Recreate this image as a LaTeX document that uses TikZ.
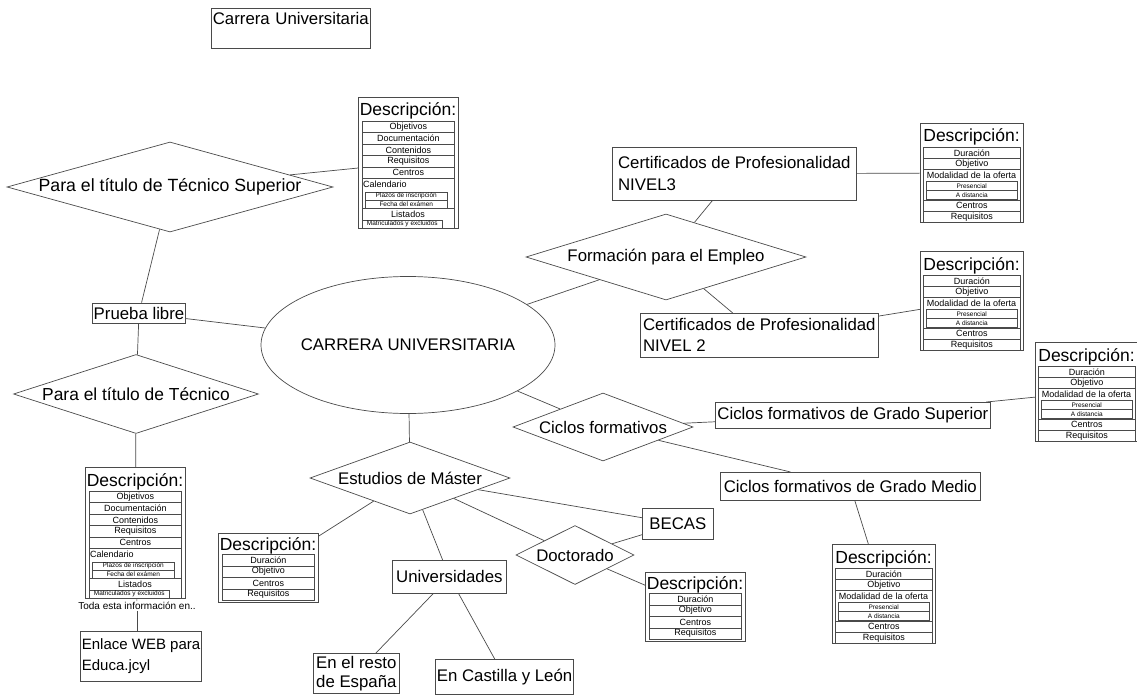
\documentclass[tikz,border=0pt]{standalone}
\usepackage{fontspec}
\setmainfont{Liberation Sans}
\usetikzlibrary{shapes.geometric,positioning}

\definecolor{gris}{HTML}{4A4A4A}

\newcommand{\letraG}{\fontsize{16.8}{19}\selectfont}
\newcommand{\letraT}{\fontsize{17.5}{19}\selectfont}
\newcommand{\letraM}{\fontsize{9}{10}\selectfont}
\newcommand{\letraP}{\fontsize{6.5}{7}\selectfont}

% cuadro de descripcion: prueba libre
\newcommand{\cuadroA}[3]{%
  \node[dcaja, minimum width=100, minimum height=131] (#1) at (#2,#3) {};
  \begin{scope}[shift={(#2,#3)}]
    \node[dtitulo] at (50,19) {Descripción:};
    \foreach \t [count=\i from 0] in {Objetivos,Documentación,Contenidos,Requisitos,Centros}
      \node[dfila, minimum width=92, minimum height=11.4] at (4,24+11.4*\i) {\t};
    \draw[gris] (4,81) rectangle (96,111);
    \node[font=\letraM, anchor=west, inner sep=1pt] at (4,87) {Calendario};
    \node[dsub, minimum width=82, minimum height=8] at (7,95) {Plazos de inscripción};
    \node[dsub, minimum width=82, minimum height=8] at (7,103) {Fecha del exámen};
    \draw[gris] (4,111) rectangle (96,131);
    \node[font=\letraM] at (50,117) {Listados};
    \node[dsub, minimum width=80, minimum height=8] at (4,123) {Matriculados y excluidos};
  \end{scope}}

% cuadro de descripcion: certificados y ciclos
\newcommand{\cuadroB}[3]{%
  \node[dcaja, minimum width=103, minimum height=99] (#1) at (#2,#3) {};
  \begin{scope}[shift={(#2,#3)}]
    \node[dtitulo] at (51.5,19) {Descripción:};
    \node[dfila, minimum width=97, minimum height=11] at (3,24) {Duración};
    \node[dfila, minimum width=97, minimum height=11] at (3,35) {Objetivo};
    \draw[gris] (3,46) rectangle (100,77);
    \node[font=\letraM, inner sep=0pt] at (51.5,52) {Modalidad de la oferta};
    \node[dsub, minimum width=91, minimum height=9] at (6,58) {Presencial};
    \node[dsub, minimum width=91, minimum height=9] at (6,67) {A distancia};
    \node[dfila, minimum width=97, minimum height=11] at (3,77) {Centros};
    \node[dfila, minimum width=97, minimum height=11] at (3,88) {Requisitos};
  \end{scope}}

% cuadro de descripcion corto
\newcommand{\cuadroC}[3]{%
  \node[dcaja, minimum width=100, minimum height=69] (#1) at (#2,#3) {};
  \begin{scope}[shift={(#2,#3)}]
    \node[dtitulo] at (50,17) {Descripción:};
    \foreach \t [count=\i from 0] in {Duración,Objetivo,Centros,Requisitos}
      \node[dfila, minimum width=92, minimum height=11.5] at (4,21+11.5*\i) {\t};
  \end{scope}}

\begin{document}
\begin{tikzpicture}[x=1pt,y=-1pt,font=\letraG,
    caja/.style={draw=gris,line width=0.7pt,inner xsep=1.5pt,inner ysep=1.5pt},
    rombo/.style={draw=gris,line width=0.7pt,shape=diamond,inner sep=0pt},
    elipse/.style={draw=gris,line width=0.7pt,shape=ellipse,inner sep=0pt},
    dcaja/.style={draw=gris,line width=0.9pt,anchor=north west,inner sep=0pt},
    dtitulo/.style={font=\letraT,anchor=base,inner sep=0pt},
    dfila/.style={draw=gris,line width=0.6pt,anchor=north west,inner sep=0pt,font=\letraM},
    dsub/.style={draw=gris,line width=0.5pt,anchor=north west,inner sep=0pt,font=\letraP}]

  \useasboundingbox (0,0) rectangle (1137,695);

  \node[caja, anchor=north west, text width=156, text height=15, text depth=22, align=left] (titulo) at (211,8) {Carrera Universitaria};

  % prueba libre
  \node[rombo, aspect=3.62, minimum width=326, minimum height=90, font=\fontsize{17.7}{19}\selectfont] (tecsup) at (170,187) {Para el título de Técnico Superior};
  \cuadroA{dts}{358}{97}
  \node[caja, minimum width=93, minimum height=20, inner xsep=1pt] (prueba) at (139,313) {Prueba libre};
  \node[rombo, aspect=3.1, minimum width=245, minimum height=79, font=\fontsize{17.4}{19}\selectfont] (tec) at (136,394) {Para el título de Técnico};
  \cuadroA{dtec}{85}{467}
  \node[font=\fontsize{10}{12}\selectfont, inner sep=1pt] (toda) at (137,606) {Toda esta información en..};
  \node[caja, anchor=north west, minimum width=120, minimum height=50, align=left, font=\fontsize{15}{21}\selectfont] (enlace) at (80,631) {Enlace WEB para\\Educa.jcyl};

  \node[elipse, minimum width=294, minimum height=137, label=center:{CARRERA UNIVERSITARIA}] (centro) at (408,345) {};

  % formacion para el empleo
  \node[rombo, aspect=3.26, minimum width=280, minimum height=86] (empleo) at (666,257) {Formación para el Empleo};
  \node[caja, anchor=north west, minimum width=244, minimum height=53, align=left, font=\fontsize{16.8}{22}\selectfont] (niv3) at (612,147) {Certificados de Profesionalidad\\NIVEL3};
  \cuadroB{dn3}{920}{123}
  \node[caja, anchor=north west, minimum width=238, minimum height=44, align=left, font=\fontsize{16.8}{21}\selectfont] (niv2) at (640,313) {Certificados de Profesionalidad\\NIVEL 2};
  \cuadroB{dn2}{920}{251}

  % ciclos formativos
  \node[rombo, aspect=2.65, minimum width=180, minimum height=68] (ciclos) at (603,427) {Ciclos formativos};
  \node[caja, anchor=north west, minimum width=275, minimum height=26] (gsup) at (715,402) {Ciclos formativos de Grado Superior};
  \cuadroB{dgs}{1035}{342}
  \node[caja, anchor=north west, minimum width=260, minimum height=28] (gmed) at (720,472) {Ciclos formativos de Grado Medio};
  \cuadroB{dgm}{832}{544}

  % master
  \node[rombo, aspect=2.78, minimum width=200, minimum height=72] (master) at (410,478) {Estudios de Máster};
  \cuadroC{dmas}{218}{533}
  \node[caja, anchor=north west, minimum width=114, minimum height=33] (univ) at (392,560) {Universidades};
  \node[caja, anchor=north west, minimum width=86, minimum height=40, align=left] (resto) at (313,653) {En el resto\\de España};
  \node[caja, anchor=north west, minimum width=138, minimum height=35] (cyl) at (435,659) {En Castilla y León};
  \node[caja, anchor=north west, minimum width=71, minimum height=31] (becas) at (642,508) {BECAS};
  \node[rombo, aspect=2, minimum width=118, minimum height=59] (doct) at (575,555) {Doctorado};
  \cuadroC{ddoc}{645}{572}

  \path[draw=gris, line width=0.7pt]
    (tecsup) edge (dts)
             edge (prueba)
    (prueba) edge (centro)
             edge (tec)
    (tec)    edge (dtec)
    (dtec)   edge (toda)
    (toda.south) edge (toda.south |- enlace.north)
    (centro) edge (empleo)
             edge (ciclos)
             edge (master)
    (empleo) edge (niv3)
             edge (niv2)
    (niv3)   edge (dn3)
    (niv2)   edge (dn2)
    (ciclos) edge (gsup)
             edge (gmed)
    (gsup)   edge (dgs)
    (gmed)   edge (dgm)
    (master) edge (dmas)
             edge (univ)
             edge (becas)
             edge (doct)
    (doct)   edge (becas)
             edge (ddoc)
    (univ)   edge (resto)
             edge (cyl);
\end{tikzpicture}
\end{document}
